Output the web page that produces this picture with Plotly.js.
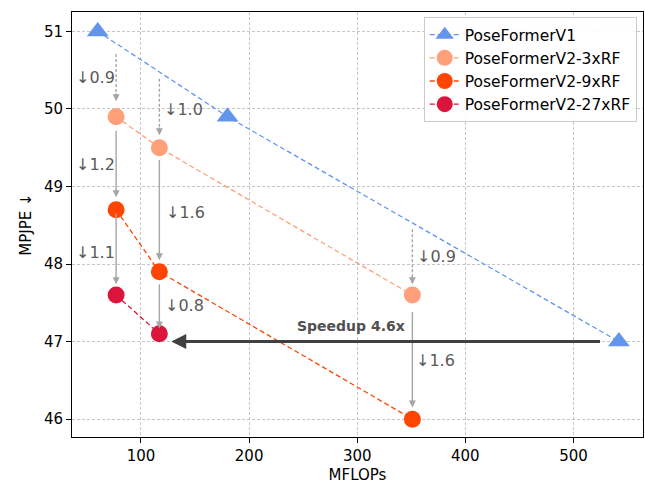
<!DOCTYPE html>
<html>
<head>
<meta charset="utf-8">
<script src="https://cdn.plot.ly/plotly-3.0.1.min.js"></script>
<style>html,body{margin:0;padding:0;background:#fff;}#chart{width:645px;height:485px;}</style>
</head>
<body>
<div id="chart"></div>
<script>
// Data
const seriesNames = ["PoseFormerV1", "PoseFormerV2-3xRF", "PoseFormerV2-9xRF", "PoseFormerV2-27xRF"];
const v1X = [60, 180, 542];
const v1Y = [51.0, 49.9, 47.0];
const rf3X = [77, 117, 351];
const rf3Y = [49.9, 49.5, 47.6];
const rf9X = [77, 117, 351];
const rf9Y = [48.7, 47.9, 46.0];
const rf27X = [77, 117];
const rf27Y = [47.6, 47.1];
const xTicks = [100, 200, 300, 400, 500];
const yTicks = [46, 47, 48, 49, 50, 51];

// Improvement arrows
const arrowX = [77, 117, 77, 77, 117, 117, 351, 351];
const arrowY0 = [50.71, 50.39, 49.72, 48.65, 49.34, 47.74, 48.45, 47.38];
const arrowY1 = [50.10, 49.66, 48.86, 47.74, 48.05, 47.17, 47.74, 46.15];
const arrowLabels = ["↓0.9", "↓1.0", "↓1.2", "↓1.1", "↓1.6", "↓0.8", "↓0.9", "↓1.6"];
const labelX = [58, 139, 58, 58, 141, 140, 373, 372];
const labelY = [50.41, 49.99, 49.28, 48.15, 48.67, 47.46, 48.10, 46.76];
const arrowDashed = [true, true, false, false, false, false, true, false];

const speedupFrom = [526, 47.0];
const speedupTo = [128, 47.0];
const speedupText = "Speedup 4.6x";
const speedupPos = [294, 47.2];

const colors = ["#6495ED", "#FFA07A", "#FF4500", "#DC143C"];
const font = "DejaVu Sans, sans-serif";

function trace(x, y, i, symbol, size) {
  return {
    x: x, y: y, name: seriesNames[i], type: "scatter", mode: "lines+markers",
    line: {color: colors[i], dash: "5px,3px", width: 1.3},
    marker: {color: colors[i], symbol: symbol, size: size},
    cliponaxis: false
  };
}
const data = [
  trace(v1X, v1Y, 0, "triangle-up", 19),
  trace(rf3X, rf3Y, 1, "circle", 17),
  trace(rf9X, rf9Y, 2, "circle", 17),
  trace(rf27X, rf27Y, 3, "circle", 17)
];

const shapes = [];
const annotations = [];
const grey = "#a6a6a6";
for (let i = 0; i < arrowX.length; i++) {
  shapes.push({
    type: "line", xref: "x", yref: "y", layer: "above",
    x0: arrowX[i], x1: arrowX[i], y0: arrowY0[i], y1: arrowY1[i] + 0.06,
    line: {color: grey, width: 1.4, dash: arrowDashed[i] ? "3px,2px" : "solid"}
  });
  annotations.push({
    x: arrowX[i], y: arrowY1[i], xref: "x", yref: "y",
    ax: arrowX[i], ay: arrowY1[i] + 0.12, axref: "x", ayref: "y",
    showarrow: true, arrowhead: 2, arrowsize: 1, arrowwidth: 1.4, arrowcolor: grey,
    text: ""
  });
  annotations.push({
    x: labelX[i], y: labelY[i], xref: "x", yref: "y", showarrow: false,
    text: arrowLabels[i], font: {family: font, size: 16, color: "#5a5a5a"}
  });
}
annotations.push({
  x: speedupTo[0], y: speedupTo[1], xref: "x", yref: "y",
  ax: speedupFrom[0], ay: speedupFrom[1], axref: "x", ayref: "y",
  showarrow: true, arrowhead: 2, arrowsize: 1, arrowwidth: 3, arrowcolor: "#404040", text: ""
});
annotations.push({
  x: speedupPos[0], y: speedupPos[1], xref: "x", yref: "y", showarrow: false,
  text: "<b>" + speedupText + "</b>", font: {family: font, size: 14, color: "#505050"}
});

const layout = {
  width: 645, height: 485,
  margin: {l: 72, r: 2, t: 12, b: 48},
  paper_bgcolor: "#fff", plot_bgcolor: "#fff",
  font: {family: font, size: 15, color: "#000"},
  showlegend: true,
  legend: {
    x: 0.989, y: 0.988, xanchor: "right", yanchor: "top",
    bgcolor: "rgba(255,255,255,0.9)", bordercolor: "#cccccc", borderwidth: 1,
    font: {family: font, size: 15.5, color: "#000"}
  },
  xaxis: {
    range: [36.2, 564.3], tickvals: xTicks, ticktext: xTicks.map(String),
    showline: true, mirror: true, linecolor: "#000", linewidth: 1,
    ticks: "outside", ticklen: 5, tickcolor: "#000",
    showgrid: true, gridcolor: "#b8b8b8", griddash: "3px,2px", gridwidth: 0.8,
    zeroline: false, tickfont: {size: 15},
    title: {text: "MFLOPs", font: {family: font, size: 15}, standoff: 5}
  },
  yaxis: {
    range: [45.77, 51.25], tickvals: yTicks, ticktext: yTicks.map(String),
    showline: true, mirror: true, linecolor: "#000", linewidth: 1,
    ticks: "outside", ticklen: 5, tickcolor: "#000",
    showgrid: true, gridcolor: "#b8b8b8", griddash: "3px,2px", gridwidth: 0.8,
    zeroline: false, tickfont: {size: 15},
    title: {text: "MPJPE ↓", font: {family: font, size: 15}, standoff: 8}
  },
  shapes: shapes,
  annotations: annotations
};

Plotly.newPlot("chart", data, layout, {displayModeBar: false, staticPlot: true});
</script>
</body>
</html>
